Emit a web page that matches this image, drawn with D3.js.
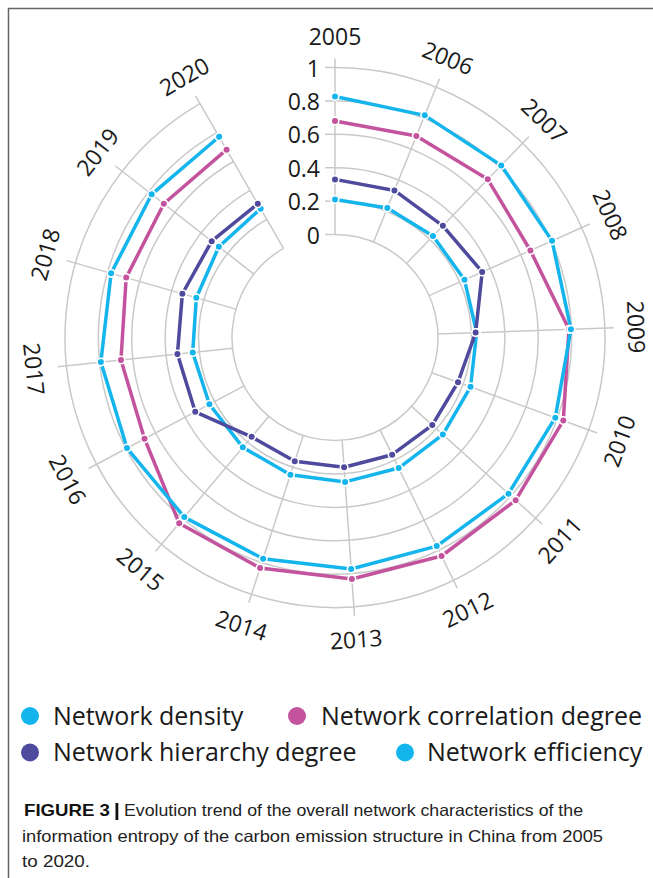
<!DOCTYPE html>
<html>
<head>
<meta charset="utf-8">
<script src="https://cdn.jsdelivr.net/npm/d3@7/dist/d3.min.js"></script>
<style>
  html, body { margin: 0; padding: 0; background: #fff; }
  svg { display: block; }
</style>
</head>
<body>
<svg id="chart" width="653" height="878"></svg>
<script>
// ---- data ----
const years = ["2005","2006","2007","2008","2009","2010","2011","2012","2013","2014","2015","2016","2017","2018","2019","2020"];
const density     = [0.21, 0.22, 0.228, 0.232, 0.232, 0.247, 0.252, 0.253, 0.25, 0.247, 0.242, 0.235, 0.24, 0.247, 0.266, 0.274];
const correlation = [0.68, 0.684, 0.70, 0.664, 0.785, 0.838, 0.839, 0.839, 0.833, 0.835, 0.835, 0.675, 0.672, 0.684, 0.684, 0.682];
const hierarchy   = [0.33, 0.333, 0.313, 0.348, 0.226, 0.167, 0.167, 0.164, 0.162, 0.163, 0.16, 0.331, 0.332, 0.334, 0.32, 0.308];
const efficiency  = [0.826, 0.818, 0.816, 0.806, 0.797, 0.787, 0.781, 0.773, 0.773, 0.776, 0.787, 0.794, 0.793, 0.778, 0.776, 0.771];
const tickValues = [0, 0.2, 0.4, 0.6, 0.8, 1];
const tickLabels = ["0", "0.2", "0.4", "0.6", "0.8", "1"];
const seriesNames = ["Network density", "Network correlation degree", "Network hierarchy degree", "Network efficiency"];
const seriesColors = ["#14b5ec", "#c4539e", "#4e4a9d", "#14b5ec"];
const captionBold = "FIGURE 3";
const captionLines = [
  "Evolution trend of the overall network characteristics of the",
  "information entropy of the carbon emission structure in China from 2005",
  "to 2020."
];

// ---- layout ----
const svg = d3.select("#chart");
const cx = 335, cy = 337.5, r0 = 103, r1 = 270;
const deg = Math.PI / 180;
const rScale = d3.scaleLinear().domain([0, 1]).range([r0, r1]);
const aScale = d3.scalePoint().domain(years).range([0, 330 * deg]);
const gridColor = "#c9c9c9";
const chartFont = "'Open Sans', 'Noto Sans', sans-serif";

svg.append("rect").attr("width", 653).attr("height", 878).attr("fill", "#fff");
// frame
svg.append("line").attr("x1", 8).attr("y1", 8.5).attr("x2", 653).attr("y2", 8.5)
  .attr("stroke", "#666").attr("stroke-width", 1.5);
svg.append("line").attr("x1", 8.5).attr("y1", 8).attr("x2", 8.5).attr("y2", 878)
  .attr("stroke", "#666").attr("stroke-width", 1.5);

const g = svg.append("g").attr("transform", `translate(${cx},${cy})`);

// rings
const a0 = aScale.range()[0], a1 = aScale.range()[1];
tickValues.forEach(t => {
  const p = d3.path();
  const r = rScale(t);
  p.moveTo(r * Math.sin(a0), -r * Math.cos(a0));
  p.arc(0, 0, r, a0 - Math.PI / 2, a1 - Math.PI / 2, false);
  g.append("path").attr("d", p.toString()).attr("fill", "none")
    .attr("stroke", gridColor).attr("stroke-width", 1.5);
});

// spokes
years.forEach(y => {
  const a = aScale(y);
  const rOut = rScale(1) + 9;
  g.append("line")
    .attr("x1", r0 * Math.sin(a)).attr("y1", -r0 * Math.cos(a))
    .attr("x2", rOut * Math.sin(a)).attr("y2", -rOut * Math.cos(a))
    .attr("stroke", gridColor).attr("stroke-width", 1.5);
});

// radius axis ticks & labels
tickValues.forEach((t, i) => {
  const y = -rScale(t);
  g.append("line").attr("x1", -10).attr("x2", 0).attr("y1", y).attr("y2", y)
    .attr("stroke", gridColor).attr("stroke-width", 1.5);
  g.append("text").attr("x", -15).attr("y", y)
    .attr("text-anchor", "end").attr("dominant-baseline", "central")
    .attr("font-family", chartFont).attr("font-size", 23).attr("fill", "#1a1a1a")
    .text(tickLabels[i]);
});

// category labels
const labelR = 302;
years.forEach(y => {
  const a = aScale(y);
  const d = a / deg;
  const rot = (d > 90 && d < 270) ? d - 180 : d;
  const x = labelR * Math.sin(a), yy = -labelR * Math.cos(a);
  g.append("text")
    .attr("transform", `translate(${x},${yy}) rotate(${rot})`)
    .attr("text-anchor", "middle").attr("dominant-baseline", "central")
    .attr("font-family", chartFont).attr("font-size", 23).attr("fill", "#1a1a1a")
    .text(y);
});

// series
const allSeries = [density, correlation, hierarchy, efficiency];
const line = d3.lineRadial()
  .angle((d, i) => aScale(years[i]))
  .radius(d => rScale(d));
allSeries.forEach((vals, si) => {
  g.append("path").attr("d", line(vals)).attr("fill", "none")
    .attr("stroke", seriesColors[si]).attr("stroke-width", 3.5)
    .attr("stroke-linejoin", "round");
});
allSeries.forEach((vals, si) => {
  g.selectAll(null).data(vals).enter().append("circle")
    .attr("cx", (d, i) => rScale(d) * Math.sin(aScale(years[i])))
    .attr("cy", (d, i) => -rScale(d) * Math.cos(aScale(years[i])))
    .attr("r", 3.8)
    .attr("fill", seriesColors[si])
    .attr("stroke", "#fff").attr("stroke-width", 1.6);
});

// legend
const legendPos = [
  { cx: 30, cy: 716, tx: 53, ty: 724.5 },
  { cx: 297, cy: 716, tx: 321, ty: 724.5 },
  { cx: 30, cy: 752.5, tx: 53, ty: 761 },
  { cx: 405, cy: 752.5, tx: 427, ty: 761 }
];
seriesNames.forEach((name, i) => {
  const p = legendPos[i];
  svg.append("circle").attr("cx", p.cx).attr("cy", p.cy).attr("r", 9).attr("fill", seriesColors[i]);
  svg.append("text").attr("x", p.tx).attr("y", p.ty)
    .attr("font-family", chartFont).attr("font-size", 25).attr("fill", "#1a1a1a")
    .text(name);
});

// caption
const capFont = "'Liberation Sans', Arial, sans-serif";
svg.append("text").attr("x", 24).attr("y", 816)
  .attr("font-family", capFont).attr("font-size", 16.5).attr("font-weight", "bold").attr("fill", "#111")
  .attr("textLength", 86).attr("lengthAdjust", "spacingAndGlyphs")
  .text(captionBold);
svg.append("rect").attr("x", 115.5).attr("y", 803).attr("width", 2.8).attr("height", 17).attr("fill", "#111");
const capY = [816, 841.5, 867];
const capX = [124, 22, 22];
const capW = [459, 581, 68];
captionLines.forEach((t, i) => {
  svg.append("text").attr("x", capX[i]).attr("y", capY[i])
    .attr("font-family", capFont).attr("font-size", 16.5).attr("fill", "#222")
    .attr("textLength", capW[i]).attr("lengthAdjust", "spacingAndGlyphs")
    .text(t);
});
</script>
</body>
</html>
